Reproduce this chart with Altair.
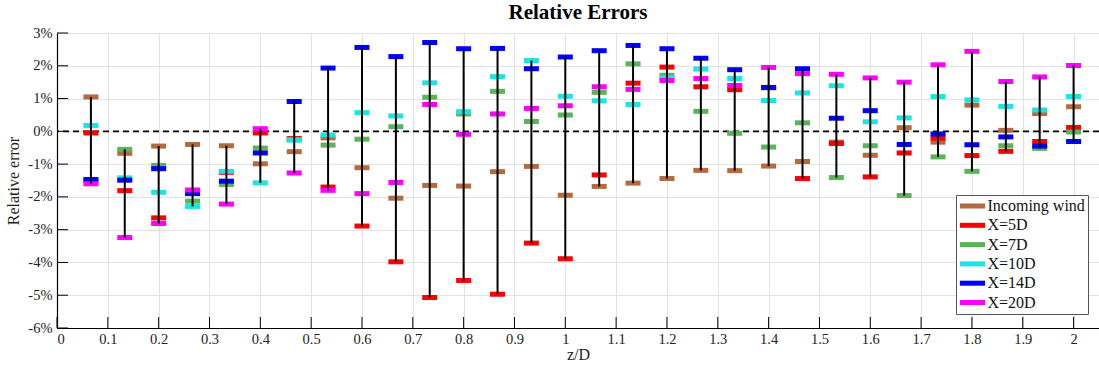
import altair as alt
import pandas as pd

# Measurement heights (z/D)
z_positions = [0.0667, 0.1333, 0.2, 0.2667, 0.3333, 0.4, 0.4667, 0.5333, 0.6, 0.6667,
               0.7333, 0.8, 0.8667, 0.9333, 1.0, 1.0667, 1.1333, 1.2, 1.2667, 1.3333,
               1.4, 1.4667, 1.5333, 1.6, 1.6667, 1.7333, 1.8, 1.8667, 1.9333, 2.0]

series_names = ["Incoming wind", "X=5D", "X=7D", "X=10D", "X=14D", "X=20D"]
series_colors = ["#B36B3E", "#FF0000", "#5BB35B", "#1DE3E3", "#0000FF", "#FF00FF"]

# Relative error in percent, one list per series
incoming_wind = [1.05, -0.67, -0.45, -0.40, -0.44, -0.99, -0.62, -0.20, -1.11, -2.04,
                 -1.65, -1.67, -1.23, -1.07, -1.95, -1.68, -1.58, -1.44, -1.19, -1.20,
                 -1.06, -0.92, -0.33, -0.73, 0.11, -0.33, 0.80, 0.03, 0.54, 0.75]
x_5d = [-0.05, -1.81, -2.64, -1.88, -1.25, -0.05, -0.22, -1.70, -2.89, -3.98,
        -5.07, -4.55, -4.97, -3.41, -3.89, -1.33, 1.47, 1.96, 1.36, 1.27,
        1.33, -1.44, -0.37, -1.39, -0.66, -0.21, -0.74, -0.61, -0.31, 0.12]
x_7d = [-1.50, -0.55, -1.04, -2.13, -1.62, -0.51, -0.25, -0.42, -0.24, 0.14,
        1.04, 0.53, 1.22, 0.30, 0.50, 1.19, 2.06, 1.71, 0.61, -0.06,
        -0.48, 0.26, -1.41, -0.44, -1.96, -0.78, -1.22, -0.44, -0.52, -0.02]
x_10d = [0.18, -1.42, -1.86, -2.29, -1.22, -1.57, -0.27, -0.11, 0.57, 0.47,
         1.48, 0.60, 1.67, 2.16, 1.07, 0.93, 0.82, 1.64, 1.90, 1.61,
         0.94, 1.17, 1.39, 0.29, 0.41, 1.06, 0.96, 0.76, 0.65, 1.06]
x_14d = [-1.47, -1.49, -1.14, -1.90, -1.52, -0.66, 0.91, 1.93, 2.56, 2.28,
         2.71, 2.52, 2.53, 1.91, 2.27, 2.46, 2.62, 2.52, 2.23, 1.88,
         1.34, 1.91, 0.40, 0.63, -0.40, -0.08, -0.41, -0.17, -0.45, -0.31]
x_20d = [-1.60, -3.24, -2.81, -1.79, -2.22, 0.08, -1.27, -1.80, -1.90, -1.56,
         0.82, -0.09, 0.53, 0.70, 0.78, 1.36, 1.28, 1.55, 1.61, 1.40,
         1.95, 1.76, 1.74, 1.63, 1.50, 2.03, 2.44, 1.52, 1.66, 2.01]

y_tick_values = [-6, -5, -4, -3, -2, -1, 0, 1, 2, 3]
x_tick_values = [0, 0.1, 0.2, 0.3, 0.4, 0.5, 0.6, 0.7, 0.8, 0.9, 1.0,
                 1.1, 1.2, 1.3, 1.4, 1.5, 1.6, 1.7, 1.8, 1.9, 2.0]

all_series = [incoming_wind, x_5d, x_7d, x_10d, x_14d, x_20d]
rows = []
for order, (name, values) in enumerate(zip(series_names, all_series)):
    for z, v in zip(z_positions, values):
        rows.append({"z": z, "err": v, "series": name, "order": order})
df = pd.DataFrame(rows)

FONT = "Liberation Serif"
W, H = 1042, 295

x_scale = alt.Scale(domain=[0, 2.05], nice=False, zero=False)
y_scale = alt.Scale(domain=[-6, 3], nice=False, zero=False)

# One axis definition shared by every layer, so the layers merge into a single axis
x_axis = alt.Axis(values=x_tick_values, format="~g", grid=True, ticks=False,
                  domainColor="black", domainWidth=1.2, labelPadding=4, titlePadding=1)
y_axis = alt.Axis(values=y_tick_values, labelExpr="datum.value + '%'", grid=True,
                  ticks=False, domainColor="black", domainWidth=1.2,
                  labelPadding=5, titlePadding=6)

X_TITLE = "z/D"
Y_TITLE = "Relative error"

base = alt.Chart(df)

# Coloured markers for each series; legend swatches are wide flat bars
markers = base.mark_tick(orient="horizontal", size=15, thickness=5, opacity=1).encode(
    x=alt.X("z:Q", scale=x_scale, title=X_TITLE, axis=x_axis),
    y=alt.Y("err:Q", scale=y_scale, title=Y_TITLE, axis=y_axis),
    color=alt.Color("series:N", sort=series_names,
                    scale=alt.Scale(domain=series_names, range=series_colors),
                    legend=alt.Legend(title=None, orient="none", legendX=899, legendY=162,
                                      symbolType="M-1.8,-0.36L1.8,-0.36L1.8,0.36L-1.8,0.36Z",
                                      symbolSize=196, symbolStrokeWidth=0, symbolOffset=5.5,
                                      labelFont=FONT, labelFontSize=16, labelColor="#111111",
                                      labelOffset=7, rowPadding=3.3, padding=3,
                                      strokeColor="#555555", fillColor="white",
                                      labelLimit=300)),
    order=alt.Order("order:Q"),
)

# Vertical span from the lowest to the highest series at each height
spans = base.mark_rule(color="black", strokeWidth=2).transform_aggregate(
    lo="min(err)", hi="max(err)", groupby=["z"]
).encode(
    x=alt.X("z:Q", scale=x_scale, title=X_TITLE, axis=x_axis),
    y=alt.Y("lo:Q", scale=y_scale, title=Y_TITLE, axis=y_axis),
    y2="hi:Q",
)

zero_line = alt.Chart(pd.DataFrame({"v": [0]})).mark_rule(
    color="black", strokeDash=[6, 4], strokeWidth=1.6
).encode(y=alt.Y("v:Q", scale=y_scale, title=Y_TITLE, axis=y_axis))

# Inward-facing axis ticks
y_ticks = alt.Chart(pd.DataFrame({"v": y_tick_values})).mark_rule(
    color="black", strokeWidth=1
).encode(y=alt.Y("v:Q", scale=y_scale, title=Y_TITLE, axis=y_axis),
         x=alt.value(0), x2=alt.value(11))

x_ticks = alt.Chart(pd.DataFrame({"v": x_tick_values})).mark_rule(
    color="black", strokeWidth=1
).encode(x=alt.X("v:Q", scale=x_scale, title=X_TITLE, axis=x_axis),
         y=alt.value(H), y2=alt.value(H - 11))

chart = alt.layer(zero_line, markers, spans, y_ticks, x_ticks).properties(
    width=W,
    height=H,
    background="white",
    title=alt.TitleParams("Relative Errors", font=FONT, fontSize=21, fontWeight="bold",
                          color="black", anchor="middle", offset=2),
    autosize=alt.AutoSizeParams(type="none"),
    padding={"left": 57, "top": 33, "right": 0, "bottom": 42},
).configure_view(
    stroke=None
).configure_axis(
    labelFont=FONT, labelFontSize=14.5, labelColor="#222222",
    titleFont=FONT, titleFontSize=16, titleFontWeight="normal", titleColor="#222222",
    gridColor="#E2E2E2", gridWidth=1,
)

chart.save("out.html", embed_options={"renderer": "svg", "actions": False})
